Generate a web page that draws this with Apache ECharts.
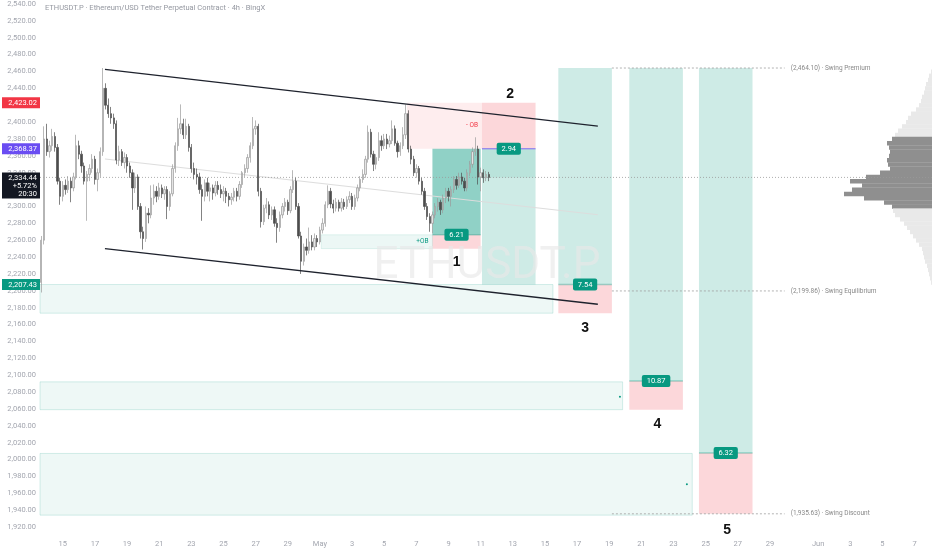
<!DOCTYPE html>
<html>
<head>
<meta charset="utf-8">
<script src="https://cdn.jsdelivr.net/npm/echarts@6/dist/echarts.min.js"></script>
<style>html,body{margin:0;padding:0;background:#fff}#c{width:932px;height:550px}</style>
</head>
<body>
<div id="c"></div>
<script>
// ---------- DATA ----------
const symbolTitle = 'ETHUSDT.P · Ethereum/USD Tether Perpetual Contract · 4h · BingX';
const watermarkText = 'ETHUSDT.P';
const firstBar = '04-13 16';
const slotCount = 333;

// 4h candles [open, high, low, close]
const candles = [
[2210,2265,2198,2260],[2260,2395,2255,2380],[2380,2398,2360,2365],[2365,2378,2358,2372],[2372,2392,2366,2383],
[2383,2388,2365,2370],[2370,2374,2326,2330],[2330,2334,2302,2312],[2312,2330,2306,2325],[2325,2332,2314,2320],
[2320,2336,2316,2330],[2330,2334,2305,2322],[2322,2340,2318,2335],[2335,2385,2332,2372],[2372,2378,2356,2362],
[2362,2366,2340,2348],[2348,2352,2326,2330],[2330,2342,2283,2338],[2338,2350,2330,2345],[2345,2362,2340,2356],
[2356,2360,2326,2332],[2332,2345,2318,2340],[2340,2370,2335,2365],[2365,2464.1,2360,2440],[2440,2446,2415,2420],
[2420,2428,2405,2410],[2410,2418,2398,2405],[2405,2410,2392,2398],[2398,2402,2350,2355],[2355,2372,2348,2365],
[2365,2368,2348,2352],[2352,2364,2345,2358],[2358,2362,2340,2348],[2348,2352,2334,2340],[2340,2344,2296,2322],
[2322,2340,2316,2335],[2335,2338,2296,2300],[2300,2304,2262,2270],[2270,2276,2249,2262],[2262,2300,2258,2292],
[2292,2298,2280,2290],[2290,2325,2286,2310],[2310,2326,2302,2318],[2318,2324,2305,2312],[2312,2328,2308,2322],
[2322,2326,2310,2315],[2315,2324,2308,2320],[2320,2324,2285,2300],[2300,2318,2295,2315],[2315,2350,2312,2345],
[2345,2376,2340,2372],[2372,2405,2366,2392],[2392,2421,2386,2398],[2398,2404,2380,2385],[2385,2404,2380,2395],
[2395,2398,2365,2370],[2370,2374,2340,2345],[2345,2352,2332,2338],[2338,2345,2326,2335],[2335,2340,2315,2320],
[2320,2326,2283,2312],[2312,2332,2306,2328],[2328,2334,2312,2318],[2318,2328,2306,2322],[2322,2326,2308,2316],
[2316,2330,2312,2325],[2325,2330,2314,2320],[2320,2326,2310,2315],[2315,2324,2306,2318],[2318,2322,2304,2312],
[2312,2316,2300,2308],[2308,2316,2302,2311],[2311,2322,2306,2318],[2318,2322,2306,2312],[2312,2330,2308,2326],
[2326,2342,2322,2340],[2340,2350,2335,2345],[2345,2362,2340,2358],[2358,2376,2352,2372],[2372,2406,2368,2392],
[2392,2402,2385,2395],[2395,2398,2312,2318],[2318,2322,2275,2282],[2282,2302,2278,2298],[2298,2310,2292,2302],
[2302,2306,2285,2290],[2290,2300,2284,2296],[2296,2300,2276,2280],[2280,2286,2257,2275],[2275,2294,2270,2290],
[2290,2304,2286,2300],[2300,2310,2294,2305],[2305,2308,2290,2295],[2295,2324,2292,2320],[2320,2343,2316,2330],
[2330,2334,2296,2300],[2300,2304,2262,2265],[2265,2270,2220,2235],[2235,2256,2230,2252],[2252,2262,2242,2248],
[2248,2275,2244,2258],[2258,2266,2248,2252],[2252,2268,2248,2262],[2262,2266,2252,2258],[2258,2276,2255,2272],
[2272,2286,2268,2280],[2280,2306,2276,2302],[2302,2325,2298,2318],[2318,2322,2298,2303],[2303,2308,2292,2298],
[2298,2310,2294,2305],[2305,2308,2294,2298],[2298,2310,2294,2305],[2305,2309,2296,2300],[2300,2312,2297,2308],
[2308,2318,2304,2312],[2312,2316,2296,2300],[2300,2314,2296,2310],[2310,2326,2306,2322],[2322,2336,2318,2332],
[2332,2344,2328,2338],[2338,2360,2334,2356],[2356,2396,2352,2388],[2388,2392,2358,2362],[2362,2366,2342,2350],
[2350,2362,2344,2358],[2358,2388,2354,2378],[2378,2384,2366,2372],[2372,2386,2368,2380],[2380,2386,2368,2374],
[2374,2384,2370,2378],[2378,2402,2374,2392],[2392,2396,2372,2375],[2375,2378,2358,2365],[2365,2376,2360,2372],
[2372,2394,2368,2385],[2385,2421,2380,2410],[2410,2414,2364,2368],[2368,2372,2350,2356],[2356,2360,2336,2340],
[2340,2350,2334,2345],[2345,2348,2326,2330],[2330,2334,2314,2318],[2318,2322,2296,2300],[2300,2304,2284,2288],
[2288,2292,2270,2280],[2280,2294,2268,2290],[2290,2304,2286,2300],[2300,2310,2294,2305],[2305,2308,2290,2296],
[2296,2314,2292,2310],[2310,2322,2304,2318],[2318,2322,2306,2312],[2312,2324,2300,2320],[2320,2336,2316,2332],
[2332,2336,2320,2325],[2325,2340,2322,2335],[2335,2340,2326,2330],[2330,2334,2318,2322],[2322,2344,2318,2340],
[2340,2354,2336,2350],[2350,2370,2346,2365],[2365,2382,2360,2368],[2368,2372,2326,2335],[2335,2346,2318,2340],
[2340,2344,2328,2334],[2334,2342,2330,2338],[2338,2341,2330,2334.44]
];

// x-axis tick labels (date -> text)
const xTickDates = ['04-15','04-17','04-19','04-21','04-23','04-25','04-27','04-29','05-01','05-03','05-05','05-07','05-09','05-11','05-13','05-15','05-17','05-19','05-21','05-23','05-25','05-27','05-29','06-01','06-03','06-05','06-07'];
const xTickTexts = ['15','17','19','21','23','25','27','29','May','3','5','7','9','11','13','15','17','19','21','23','25','27','29','Jun','3','5','7'];

// price axis
const yMin = 1900, yMax = 2541.4, yStep = 20;

// zones (order blocks / demand areas)
const zoneStart  = ['04-13 14','04-13 14','04-13 14','05-01 02','05-06 10'];
const zoneEnd    = ['05-15 12','05-19 20','05-24 04','05-08 00','05-11 02'];
const zoneTop    = [2207.43, 2092.1, 2007.2, 2266.4, 2423.02];
const zoneBottom = [2173.5, 2059.1, 1934.1, 2250.0, 2368.37];
const zoneKind   = ['demand','demand','demand','bull','bear'];
const zoneText   = ['','','','+OB','- OB'];
const dotTimes   = ['05-19 16','05-23 20'];
const dotPrices  = [2074.4, 1970.7];

// position tools
const posStart  = ['05-08 00','05-11 02','05-15 20','05-20 06','05-24 14'];
const posEnd    = ['05-11 00','05-14 10','05-19 04','05-23 14','05-27 22'];
const posTarget = [2368.37, 2207.43, 2464.10, 2464.10, 2464.10];
const posEntry  = [2266.4, 2368.37, 2207.43, 2093.1, 2007.7];
const posStop   = [2250.0, 2423.02, 2173.4, 2059.0, 1935.63];
const posRatio  = ['6.21','2.94','7.54','10.87','6.32'];
const posState  = ['hit','open','pending','pending','pending'];

// channel
const chanStart = '04-17 15', chanEnd = '05-18 07';
const chanUpper = [2462.4, 2395.2];
const chanLower = [2250.1, 2184.1];
const chanMid   = [2356.3, 2290.2];

// swing levels
const swingStart = '05-19 04', swingEnd = '05-29 22';
const swingPrices = [2464.10, 2199.86, 1935.63];
const swingNames  = ['Swing Premium','Swing Equilibrium','Swing Discount'];

// numbered notes
const noteTimes  = ['05-09 12','05-12 20','05-17 12','05-22 00','05-26 08'];
const notePrices = [2233.6, 2432.9, 2155.8, 2041.4, 1916.4];
const noteTexts  = ['1','2','3','4','5'];

// price tags on the axis
const tagPrices = [2423.02, 2368.37, 2207.43];
const lastPrice = 2334.44, lastChange = '+5.72%', barCountdown = '20:30';

// volume profile (price level, volume)
const profilePrices = [2460,2455,2450,2445,2440,2435,2430,2425,2420,2415,2410,2405,2400,2395,2390,2385,2380,2375,2370,2365,2360,2355,2350,2345,2340,2335,2330,2325,2320,2315,2310,2305,2300,2295,2290,2285,2280,2275,2270,2265,2260,2255,2250,2245,2240,2235,2230,2225,2220,2215,2210];
const profileVol    = [1,3,4,6,7,8,10,11,13,16,21,24,26,30,34,37,40,45,43,42,43,45,44,42,52,66,82,70,80,88,68,48,40,39,37,32,28,25,22,19,16,13,10,9,8,7,5,4,3,2,1];
const valueAreaHigh = 2382, valueAreaLow = 2298;

// ---------- HELPERS ----------
const H4 = 4 * 3600 * 1000;
function toMs(s) { const [md, h] = s.split(' '); const [m, d] = md.split('-').map(Number); return Date.UTC(2025, m - 1, d, +(h || 0)); }
const START = toMs(firstBar);
function T(s) { return (toMs(s) - START) / H4; }
const pad = n => String(n).padStart(2, '0');
const categories = [];
for (let i = 0; i < slotCount; i++) {
  const dt = new Date(START + i * H4);
  categories.push(pad(dt.getUTCMonth() + 1) + '-' + pad(dt.getUTCDate()) + ' ' + pad(dt.getUTCHours()));
}
const tickMap = {};
xTickDates.forEach((d, k) => { tickMap[d + ' 00'] = xTickTexts[k]; });
const fmt = v => v.toLocaleString('en-US', { minimumFractionDigits: 2, maximumFractionDigits: 2 });
function px(api, t) { const a = api.coord([0, 2300])[0], b = api.coord([1, 2300])[0]; return a + t * (b - a); }
function py(api, p) { return api.coord([0, p])[1]; }
function txt(x, y, text, fill, font, align, valign) {
  return { type: 'text', style: { x, y, text, fill, font, align: align || 'left', verticalAlign: valign || 'middle', textAlign: align || 'left', textVerticalAlign: valign || 'middle' } };
}
const FONT = 'Roboto, "Liberation Sans", sans-serif';
const TEAL = '#089981', RED = '#f23645';
const zoneStyle = {
  demand: { fill: 'rgba(8,153,129,0.07)', stroke: 'rgba(8,153,129,0.16)', text: TEAL },
  bull:   { fill: 'rgba(8,153,129,0.08)', stroke: 'rgba(8,153,129,0.10)', text: TEAL },
  bear:   { fill: 'rgba(242,54,69,0.09)', stroke: 'rgba(242,54,69,0.0)', text: RED }
};
const placeholder = arr => arr.map((v, k) => [k, 2300]);

// ---------- CHART ----------
const chart = echarts.init(document.getElementById('c'), null, { renderer: 'canvas' });
const option = {
  animation: false,
  backgroundColor: '#ffffff',
  title: { text: symbolTitle, left: 45, top: 4, padding: 0, textStyle: { fontSize: 7.5, color: '#9598a1', fontWeight: 'normal', fontFamily: FONT } },
  graphic: [{ type: 'text', x: 487, y: 267, z: 2, silent: true,
    style: { text: watermarkText, font: '44px ' + FONT, fill: 'rgba(232,232,232,0.65)', align: 'center', verticalAlign: 'middle', textAlign: 'center', textVerticalAlign: 'middle' } }],
  grid: { left: 40, right: 0, top: 0, bottom: 6.1 },
  xAxis: [
    { type: 'category', data: categories, boundaryGap: true,
      axisLine: { show: false }, axisTick: { show: false }, splitLine: { show: false },
      axisLabel: { margin: 0, verticalAlign: 'middle', color: '#a3a6af', fontSize: 7.5, fontFamily: FONT,
        interval: (idx, val) => tickMap[val] !== undefined, formatter: val => tickMap[val] || '' } },
    { type: 'value', inverse: true, min: 0, max: 892, show: false }
  ],
  yAxis: [{ type: 'value', min: yMin, max: yMax, interval: yStep, position: 'left',
    axisLine: { show: false }, axisTick: { show: false }, splitLine: { show: false },
    axisLabel: { margin: 4, color: '#a3a6af', fontSize: 7.5, fontFamily: FONT, showMinLabel: false, showMaxLabel: false,
      formatter: v => (v % 20 === 0 && v > yMin) ? fmt(v) : '' } }],
  series: [
    // zones
    { type: 'custom', name: 'zones', z: 1, data: placeholder(zoneStart),
      renderItem(params, api) {
        const k = params.dataIndex, st = zoneStyle[zoneKind[k]];
        const x1 = px(api, T(zoneStart[k])), x2 = px(api, T(zoneEnd[k]));
        const y1 = py(api, zoneTop[k]), y2 = py(api, zoneBottom[k]);
        const ch = [{ type: 'rect', shape: { x: x1, y: y1, width: x2 - x1, height: y2 - y1 }, style: { fill: st.fill, stroke: st.stroke, lineWidth: 1 } }];
        if (zoneText[k]) ch.push(txt(x2 - 4, (y1 + y2) / 2, zoneText[k], st.text, '6.5px ' + FONT, 'right'));
        return { type: 'group', children: ch };
      } },
    // dots in zones
    { type: 'custom', name: 'dots', z: 2, data: placeholder(dotTimes),
      renderItem(params, api) {
        const k = params.dataIndex;
        return { type: 'circle', shape: { cx: px(api, T(dotTimes[k])), cy: py(api, dotPrices[k]), r: 1 }, style: { fill: TEAL } };
      } },
    // position tools
    { type: 'custom', name: 'positions', z: 1, data: placeholder(posStart),
      renderItem(params, api) {
        const k = params.dataIndex;
        const x1 = px(api, T(posStart[k])), x2 = px(api, T(posEnd[k]));
        const yT = py(api, posTarget[k]), yE = py(api, posEntry[k]), yS = py(api, posStop[k]);
        const gA = posState[k] === 'hit' ? 0.45 : 0.2;
        const ch = [
          { type: 'rect', shape: { x: x1, y: Math.min(yT, yE), width: x2 - x1, height: Math.abs(yE - yT) }, style: { fill: 'rgba(8,153,129,' + gA + ')' } },
          { type: 'rect', shape: { x: x1, y: Math.min(yS, yE), width: x2 - x1, height: Math.abs(yE - yS) }, style: { fill: 'rgba(242,54,69,0.2)' } }
        ];
        if (posState[k] === 'open') {
          const yL = py(api, lastPrice);
          ch.push({ type: 'rect', shape: { x: x1, y: Math.min(yL, yE), width: x2 - x1, height: Math.abs(yE - yL) }, style: { fill: 'rgba(8,153,129,0.1)' } });
          ch.push({ type: 'line', shape: { x1, y1: yE, x2, y2: yE }, style: { stroke: '#7b6cf0', lineWidth: 1 } });
        } else {
          ch.push({ type: 'line', shape: { x1, y1: yE, x2, y2: yE }, style: { stroke: 'rgba(8,153,129,0.35)', lineWidth: 1.5 } });
        }
        const cx = (x1 + x2) / 2, w = posRatio[k].length * 4.3 + 7;
        ch.push({ type: 'rect', shape: { x: cx - w / 2, y: yE - 6, width: w, height: 12, r: 2 }, style: { fill: TEAL } });
        ch.push(txt(cx, yE + 0.5, posRatio[k], '#ffffff', '7.5px ' + FONT, 'center'));
        return { type: 'group', children: ch };
      } },
    // volume profile
    { type: 'custom', name: 'profile', z: 1, xAxisIndex: 1, yAxisIndex: 0,
      data: profilePrices.map((p, k) => [profileVol[k], p]),
      renderItem(params, api) {
        const k = params.dataIndex, p = profilePrices[k];
        const a = api.coord([0, p + 2.5]), b = api.coord([profileVol[k], p - 2.5]);
        const inVA = p >= valueAreaLow && p <= valueAreaHigh;
        return { type: 'rect', shape: { x: b[0], y: a[1], width: a[0] - b[0], height: b[1] - a[1] + 0.3 },
          style: { fill: inVA ? '#8f8f8f' : '#e9e9e9' } };
      } },
    // channel mid line and last price line
    { type: 'custom', name: 'guides', z: 2, data: [[0, 2300]],
      renderItem(params, api) {
        const x1 = px(api, T(chanStart)), x2 = px(api, T(chanEnd));
        const cs = params.coordSys;
        const yL = py(api, lastPrice);
        return { type: 'group', children: [
          { type: 'line', shape: { x1, y1: py(api, chanMid[0]), x2, y2: py(api, chanMid[1]) }, style: { stroke: '#dddddd', lineWidth: 1 } },
          { type: 'line', shape: { x1: cs.x, y1: yL, x2: cs.x + cs.width, y2: yL }, style: { stroke: '#9a9a9a', lineWidth: 0.8, lineDash: [1, 2] } }
        ] };
      } },
    // candles
    { type: 'candlestick', name: 'ETHUSDT.P', z: 3, barWidth: 1.8,
      data: candles.map(c => [c[0], c[3], c[2], c[1]]),
      itemStyle: { color: '#e4e4e4', color0: '#4d4d4d', borderColor: '#9b9b9b', borderColor0: '#4d4d4d', borderWidth: 0.7 } },
    // channel lines + swing levels
    { type: 'custom', name: 'lines', z: 4, data: [[0, 2300]],
      renderItem(params, api) {
        const x1 = px(api, T(chanStart)), x2 = px(api, T(chanEnd));
        const s1 = px(api, T(swingStart)), s2 = px(api, T(swingEnd));
        const ch = [
          { type: 'line', shape: { x1, y1: py(api, chanUpper[0]), x2, y2: py(api, chanUpper[1]) }, style: { stroke: '#1e222d', lineWidth: 1.3 } },
          { type: 'line', shape: { x1, y1: py(api, chanLower[0]), x2, y2: py(api, chanLower[1]) }, style: { stroke: '#1e222d', lineWidth: 1.3 } }
        ];
        swingPrices.forEach((p, k) => {
          const y = py(api, p);
          ch.push({ type: 'line', shape: { x1: s1, y1: y, x2: s2, y2: y }, style: { stroke: '#a0a0a0', lineWidth: 0.8, lineDash: [2, 2] } });
          ch.push(txt(s2 + 6, y, '(' + fmt(p) + ') · ' + swingNames[k], '#888888', '6.5px ' + FONT, 'left'));
        });
        return { type: 'group', children: ch };
      } },
    // numbered notes
    { type: 'custom', name: 'notes', z: 5, data: placeholder(noteTimes),
      renderItem(params, api) {
        const k = params.dataIndex;
        return txt(px(api, T(noteTimes[k])), py(api, notePrices[k]), noteTexts[k], '#111111', 'bold 14px "Liberation Sans", Arial, sans-serif', 'center');
      } },
    // price tags on left axis
    { type: 'custom', name: 'tags', z: 10, clip: false, data: placeholder(tagPrices),
      renderItem(params, api) {
        const k = params.dataIndex, x0 = params.coordSys.x, y = py(api, tagPrices[k]);
        const colors = ['#f23645', '#6a4df2', '#089981'];
        return { type: 'group', children: [
          { type: 'rect', shape: { x: x0 - 38, y: y - 5.5, width: 38, height: 11 }, style: { fill: colors[k] } },
          txt(x0 - 3, y + 0.5, fmt(tagPrices[k]), '#ffffff', '7.5px ' + FONT, 'right')
        ] };
      } },
    { type: 'custom', name: 'lastTag', z: 10, clip: false, data: [[0, lastPrice]],
      renderItem(params, api) {
        const x0 = params.coordSys.x, y = py(api, lastPrice);
        return { type: 'group', children: [
          { type: 'rect', shape: { x: x0 - 38, y: y - 5, width: 38, height: 26 }, style: { fill: '#131722' } },
          txt(x0 - 3, y + 0.5, fmt(lastPrice), '#ffffff', '7.5px ' + FONT, 'right'),
          txt(x0 - 3, y + 8.5, lastChange, '#ffffff', '7.5px ' + FONT, 'right'),
          txt(x0 - 3, y + 16.5, barCountdown, '#ffffff', '7.5px ' + FONT, 'right')
        ] };
      } }
  ]
};
chart.setOption(option);
</script>
</body>
</html>
